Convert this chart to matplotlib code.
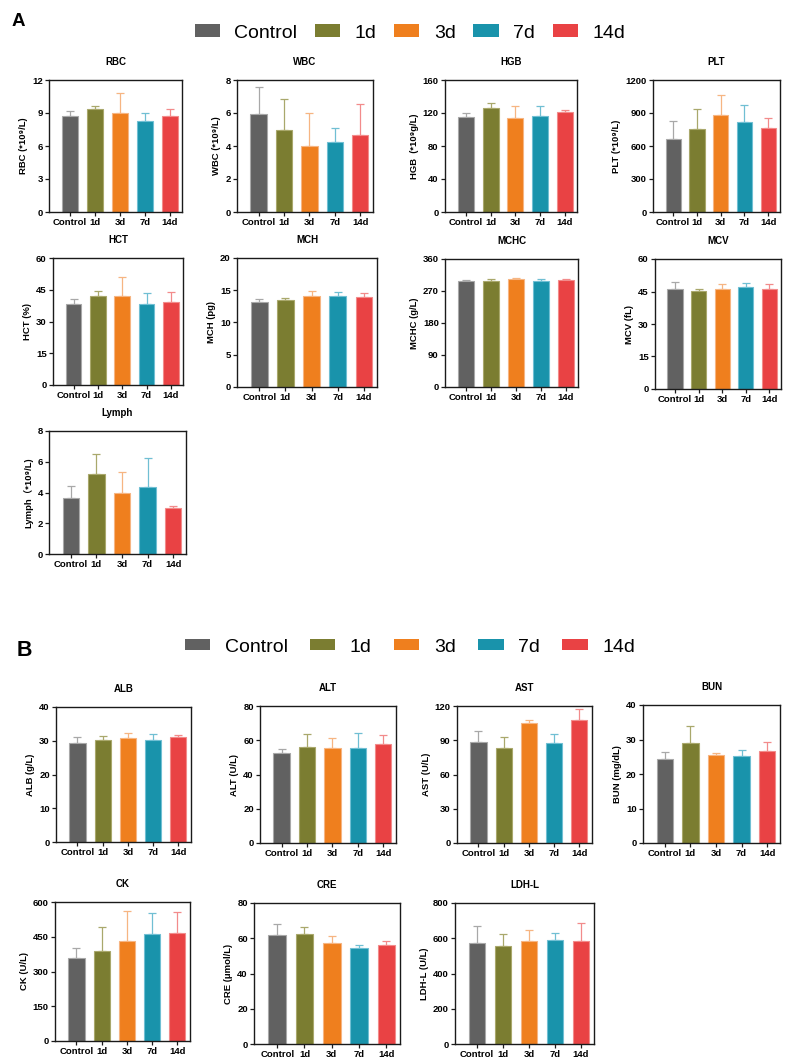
import matplotlib
matplotlib.use("Agg")
import matplotlib.pyplot as plt
from matplotlib.patches import Patch

plt.rcParams['font.family'] = ['Liberation Sans', 'DejaVu Sans', 'Noto Sans CJK SC']

groups = ['Control', '1d', '3d', '7d', '14d']
bar_colors = ['#616161', '#7b7d31', '#ef7f1e', '#1993ab', '#e94244']
err_colors = ['#a8a8a8', '#a9a86c', '#f6b582', '#70bfd3', '#f28b8b']

# ---- Panel A (hematology) ----
rbc_mean = [8.73, 9.39, 8.97, 8.30, 8.70]
rbc_sd = [0.47, 0.28, 1.88, 0.73, 0.63]
wbc_mean = [5.92, 4.99, 4.00, 4.26, 4.65]
wbc_sd = [1.64, 1.86, 2.02, 0.85, 1.88]
hgb_mean = [115.2, 126.0, 114.3, 116.0, 121.2]
hgb_sd = [4.8, 5.7, 14.7, 13.0, 2.4]
plt_mean = [667, 758, 879, 818, 764]
plt_sd = [163, 181, 185, 158, 91]
hct_mean = [38.3, 42.2, 42.2, 38.4, 39.2]
hct_sd = [2.2, 2.4, 8.8, 4.9, 4.6]
mch_mean = [13.2, 13.5, 14.1, 14.1, 13.9]
mch_sd = [0.5, 0.3, 0.8, 0.7, 0.7]
mchc_mean = [298.8, 298.0, 302.5, 297.0, 300.6]
mchc_sd = [3.2, 6.0, 3.5, 6.0, 3.4]
mcv_mean = [46.0, 45.1, 46.3, 47.2, 46.3]
mcv_sd = [3.2, 1.2, 2.3, 1.7, 2.3]
lymph_mean = [3.63, 5.21, 3.98, 4.35, 2.98]
lymph_sd = [0.78, 1.28, 1.36, 1.88, 0.13]

# ---- Panel B (biochemistry) ----
alb_mean = [29.3, 30.2, 30.9, 30.3, 31.2]
alb_sd = [1.9, 1.2, 1.4, 1.7, 0.5]
alt_mean = [52.5, 56.0, 55.7, 55.7, 58.0]
alt_sd = [2.5, 7.4, 5.6, 8.7, 4.8]
ast_mean = [88.6, 83.3, 105.2, 88.0, 107.3]
ast_sd = [9.8, 9.4, 2.1, 7.7, 9.7]
bun_mean = [24.4, 28.9, 25.5, 25.2, 26.6]
bun_sd = [2.0, 4.9, 0.6, 1.8, 2.8]
ck_mean = [357, 387, 431, 463, 467]
ck_sd = [45, 104, 130, 89, 88]
cre_mean = [61.6, 62.6, 57.3, 54.6, 55.9]
cre_sd = [6.6, 3.6, 3.7, 1.5, 2.3]
ldh_mean = [574, 555, 582, 591, 585]
ldh_sd = [93, 68, 64, 37, 101]

W, H = 787, 1062
fig = plt.figure(figsize=(W / 100, H / 100), dpi=100)

# (title, ylabel, mean, sd, ymax, ystep, rect in px [left, top, right, bottom])
panels = [
    ('RBC', 'RBC (*10⁹/L)', rbc_mean, rbc_sd, 12, 3, (49, 80, 182, 212)),
    ('WBC', 'WBC (*10⁹/L)', wbc_mean, wbc_sd, 8, 2, (237, 80, 373, 212)),
    ('HGB', 'HGB  (*10⁹g/L)', hgb_mean, hgb_sd, 160, 40, (445, 80, 577, 212)),
    ('PLT', 'PLT (*10⁹/L)', plt_mean, plt_sd, 1200, 300, (653, 80, 780, 212)),
    ('HCT', 'HCT (%)', hct_mean, hct_sd, 60, 15, (53, 258, 183, 385)),
    ('MCH', 'MCH (pg)', mch_mean, mch_sd, 20, 5, (237, 258, 377, 387)),
    ('MCHC', 'MCHC (g/L)', mchc_mean, mchc_sd, 360, 90, (445, 259, 578, 387)),
    ('MCV', 'MCV (fL)', mcv_mean, mcv_sd, 60, 15, (655, 259, 781, 389)),
    ('Lymph', 'Lymph（*10⁹/L)', lymph_mean, lymph_sd, 8, 2, (49, 431, 186, 554)),
    ('ALB', 'ALB (g/L)', alb_mean, alb_sd, 40, 10, (56, 707, 191, 842)),
    ('ALT', 'ALT (U/L)', alt_mean, alt_sd, 80, 20, (260, 706, 396, 843)),
    ('AST', 'AST (U/L)', ast_mean, ast_sd, 120, 30, (457, 706, 592, 843)),
    ('BUN', 'BUN (mg/dL)', bun_mean, bun_sd, 40, 10, (643, 705, 780, 843)),
    ('CK', 'CK (U/L)', ck_mean, ck_sd, 600, 150, (55, 902, 190, 1041)),
    ('CRE', 'CRE (μmol/L)', cre_mean, cre_sd, 80, 20, (254, 903, 400, 1044)),
    ('LDH-L', 'LDH-L (U/L)', ldh_mean, ldh_sd, 800, 200, (455, 903, 594, 1044)),
]

xpos = list(range(len(groups)))
for title, ylab, mean, sd, ymax, ystep, (l, t, r, b) in panels:
    ax = fig.add_axes([l / W, 1 - b / H, (r - l) / W, (b - t) / H])
    for i in xpos:
        ax.errorbar(i, mean[i], yerr=[[0], [sd[i]]], fmt='none',
                    ecolor=err_colors[i], elinewidth=0.9, capsize=3,
                    capthick=0.9, zorder=1)
    ax.bar(xpos, mean, width=0.64, color=bar_colors,
           edgecolor=err_colors, linewidth=0.8, zorder=2)
    ax.set_xlim(-0.85, 4.5)
    ax.set_ylim(0, ymax)
    ax.set_yticks(list(range(0, ymax + 1, ystep)))
    ax.set_xticks(xpos)
    ax.set_xticklabels(groups)
    for s in ax.spines.values():
        s.set_linewidth(1.0)
        s.set_color('#1a1a1a')
    ax.tick_params(axis='both', direction='out', length=3, width=0.9,
                   labelsize=6.8, pad=1.5, color='#1a1a1a')
    for lab in ax.get_xticklabels() + ax.get_yticklabels():
        lab.set_fontweight('bold')
    ax.set_ylabel(ylab, fontsize=6.8, fontweight='bold', labelpad=3)
    ax.set_title(title, fontsize=7, fontweight='bold', pad=11)

handles = [Patch(facecolor=c, edgecolor='none') for c in bar_colors]
# (center y px, column spacing, handle height)
legend_specs = [(33, 0.9, 0.62), (647, 1.15, 0.52)]
for ycen, cs, hh in legend_specs:
    fig.legend(handles, groups, loc='center', ncol=5,
               bbox_to_anchor=(410 / W, 1 - ycen / H), frameon=False,
               fontsize=14, handlelength=1.3, handleheight=hh,
               handletextpad=0.75, columnspacing=cs, borderpad=0)

fig.text(12 / W, 1 - 21 / H, 'A', fontsize=13.5, fontweight='bold', va='center', ha='left')
fig.text(17 / W, 1 - 651 / H, 'B', fontsize=15.5, fontweight='bold', va='center', ha='left')

fig.savefig('out.png', dpi=100)
